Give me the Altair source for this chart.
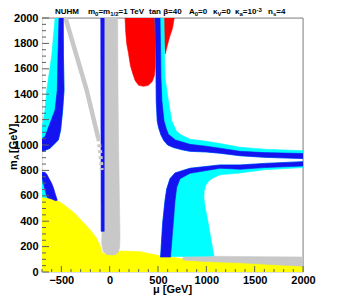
import altair as alt
import pandas as pd

# ---------------- data (mu [GeV], m_A [GeV]) ----------------
X_MAJOR = [-500, 0, 500, 1000, 1500, 2000]
X_MINOR = list(range(-700, 2001, 100))
Y_MAJOR = list(range(0, 2001, 200))
Y_MINOR = list(range(0, 2001, 50))

YELLOW_MU = [-700, -700, -600, -520, -440, -360, -280, -200, -140, -100, -75, -40, 20, 110, 314, 520, 759, 800, 1000, 1350, 1700, 2000, 2000]
YELLOW_MA = [0, 590, 575, 555, 510, 460, 395, 330, 270, 210, 150, 140, 150, 165, 160, 128, 104, 96, 86, 76, 63, 50, 0]

GRAYB_MU = [760, 1000, 1500, 2000, 2000, 1700, 1350, 1000, 760]
GRAYB_MA = [120, 124, 121, 118, 45, 58, 72, 82, 94]

GRAYS_MU = [-59, 83, 85, 92, 100, 107, 104, 90, 60, 20, -30, -65, -82, -80, -70, -62, -60]
GRAYS_MA = [2000, 2000, 1500, 1000, 600, 300, 200, 155, 138, 134, 138, 160, 220, 300, 400, 800, 1500]

BLUEL_MU = [-92, -57, -57, -88]
BLUEL_MA = [2000, 2000, 320, 320]

DIAG_MU = [-457, -238, -118]
DIAG_MA = [2000, 1433, 1053]
DIAG2_MU = [-118, -100, -82]
DIAG2_MA = [1053, 961, 803]

REDL_MU = [159, 470, 474, 472, 462, 440, 400, 350, 300, 265, 240, 215, 195, 176, 165]
REDL_MA = [2000, 2000, 1800, 1620, 1545, 1500, 1470, 1462, 1470, 1505, 1560, 1625, 1720, 1800, 1900]
REDR_MU = [560, 668, 650, 620, 595, 575, 566, 562]
REDR_MA = [2000, 2000, 1920, 1850, 1780, 1716, 1800, 1900]

CYAN_UL_MU = [-565, -600, -651, -669, -693, -700, -700, -617, -531, -507, -486, -472, -478, -480]
CYAN_UL_MA = [2000, 1700, 1433, 1276, 1171, 1140, 947, 974, 1039, 1118, 1276, 1433, 1700, 2000]
BLUE_UL_MU = [-524, -535, -542, -565, -617, -669, -700, -700, -617, -531, -507, -486, -472, -478, -480]
BLUE_UL_MA = [2000, 1700, 1433, 1276, 1171, 1066, 1050, 947, 974, 1039, 1118, 1276, 1433, 1700, 2000]

CYAN_LL_MU = [-700, -690, -660, -645, -700]
CYAN_LL_MA = [760, 700, 620, 585, 590]
BLUE_LL_MU = [-700, -670, -650, -630, -600, -580, -565, -548, -542, -560, -600, -645, -660, -686, -700]
BLUE_LL_MA = [785, 785, 770, 740, 698, 660, 620, 580, 565, 562, 575, 585, 620, 698, 740]

CYAN_UR_MU = [562, 568, 573, 607, 642, 690, 728, 831, 1000, 1141, 1350, 1600, 2000,
              2000, 1600, 1350, 1141, 1000, 830, 750, 660, 600, 560, 530, 505, 492, 482, 480, 478, 469]
CYAN_UR_MA = [2000, 1700, 1528, 1350, 1190, 1110, 1085, 1045, 1030, 1012, 982, 967, 955,
              893, 903, 915, 935, 945, 950, 962, 980, 1000, 1035, 1080, 1140, 1190, 1343, 1500, 1700, 2000]
BLUE_UR_MU = [521, 528, 531, 540, 562, 585, 607, 680, 831, 1000, 1141, 1350, 1600, 2000,
              2000, 1600, 1350, 1141, 1000, 830, 750, 660, 600, 560, 530, 505, 492, 482, 480, 478, 469]
BLUE_UR_MA = [2000, 1700, 1528, 1350, 1190, 1130, 1085, 1040, 1005, 990, 975, 950, 940, 933,
              893, 903, 915, 935, 945, 950, 962, 980, 1000, 1035, 1080, 1140, 1190, 1343, 1500, 1700, 2000]

CYAN_LO_MU = [525, 528, 548, 572, 590, 624, 676, 831, 1141, 1350, 1600, 2000,
              2000, 1600, 1350, 1141, 1080, 1030, 995, 978, 975, 990, 1020, 1050, 1079]
CYAN_LO_MA = [120, 134, 383, 560, 653, 735, 780, 817, 843, 843, 855, 869,
              822, 805, 780, 765, 745, 720, 685, 640, 580, 500, 383, 250, 126]
BLUE_LO_MU = [525, 528, 548, 572, 590, 624, 676, 831, 1141, 1350, 1600, 2000,
              2000, 1600, 1350, 1141, 831, 728, 693, 676, 658, 631, 631]
BLUE_LO_MA = [118, 134, 383, 560, 653, 735, 780, 817, 843, 843, 855, 869,
              835, 822, 809, 817, 777, 735, 666, 560, 383, 134, 118]

# header pieces: (text, font size, vertical shift)
HEADER_GROUPS = [
    (13, [("NUHM", 8, 0)]),
    (46, [("m", 8, 0), ("0", 6, 2), ("=m", 8, 0), ("1/2", 6, 2), ("=1 TeV", 8, 0)]),
    (107, [("tan \u03b2=40", 8, 0)]),
    (147, [("A", 8, 0), ("0", 6, 2), ("=0", 8, 0)]),
    (171, [("\u03ba", 8, 0), ("V", 6, 2), ("=0", 8, 0)]),
    (193, [("\u03ba", 8, 0), ("a", 6, 2), ("=10", 8, 0), ("-3", 6, -2)]),
    (226, [("n", 8, 0), ("s", 6, 2), ("=4", 8, 0)]),
]
X_TITLE = "\u03bc [GeV]"

YELLOW, GRAY, BLUE, CYAN, RED = "#ffff00", "#c8c8c8", "#1414f0", "#00ffff", "#ff0000"
FONT = "Liberation Sans"
# approximate bold advance widths (em) for laying out header pieces
CW = {"N": .722, "U": .722, "H": .722, "M": .833, "m": .889, "0": .556, "1": .556, "2": .556,
      "3": .556, "4": .556, "=": .584, "/": .278, " ": .278, "T": .611, "e": .556, "V": .667,
      "t": .333, "a": .556, "n": .611, "\u03b2": .58, "A": .722, "\u03ba": .56, "s": .556, "-": .333}


def width(s, size):
    return sum(CW.get(c, .6) for c in s) * size


def poly_df(pairs):
    rows = []
    for pid, (mus, mas) in enumerate(pairs):
        seq = list(zip(mus, mas)) + [(mus[0], mas[0])]
        for i, (m, a) in enumerate(seq):
            rows.append({"pid": pid, "i": i, "mu": m, "ma": a})
    return pd.DataFrame(rows)


XS = alt.Scale(domain=[-700, 2000], nice=False, zero=False)
YS = alt.Scale(domain=[0, 2000], nice=False, zero=False)
XAX = alt.Axis(values=X_MAJOR, ticks=False, domain=False, grid=False, title=None, format="d",
               labelFont=FONT, labelFontSize=11, labelFontWeight="bold", labelColor="black",
               labelPadding=2, labelFlush=False, labelOverlap=False)
YAX = alt.Axis(values=Y_MAJOR, ticks=False, domain=False, grid=False, title=None, format="d",
               labelFont=FONT, labelFontSize=11, labelFontWeight="bold", labelColor="black",
               labelPadding=4, labelFlush=False, labelOverlap=False)


def region(pairs, color):
    return alt.Chart(poly_df(pairs)).mark_line(
        fill=color, stroke=color, strokeWidth=0.6, clip=True, interpolate="linear"
    ).encode(
        x=alt.X("mu:Q", scale=XS, axis=XAX),
        y=alt.Y("ma:Q", scale=YS, axis=YAX),
        detail="pid:N",
        order="i:Q",
    )


def line(mus, mas, color, w, dash=None):
    df = pd.DataFrame({"mu": mus, "ma": mas, "i": range(len(mus))})
    kw = dict(stroke=color, strokeWidth=w, clip=True)
    if dash:
        kw["strokeDash"] = dash
    return alt.Chart(df).mark_line(**kw).encode(
        x=alt.X("mu:Q", scale=XS, axis=XAX), y=alt.Y("ma:Q", scale=YS, axis=YAX), order="i:Q")


frame = alt.Chart(pd.DataFrame({"ma": [2000]})).mark_rule(color="#8c8c8c", strokeWidth=1).encode(
    x=alt.value(0), x2=alt.value(261), y=alt.Y("ma:Q", scale=YS, axis=YAX))
frame_r = alt.Chart(pd.DataFrame({"mu": [2000]})).mark_rule(color="#8c8c8c", strokeWidth=1).encode(
    x=alt.X("mu:Q", scale=XS, axis=XAX), y=alt.value(0), y2=alt.value(254))

layers = [
    frame, frame_r,
    region([(YELLOW_MU, YELLOW_MA)], YELLOW),
    region([(GRAYB_MU, GRAYB_MA), (GRAYS_MU, GRAYS_MA)], GRAY),
    region([(BLUEL_MU, BLUEL_MA)], BLUE),
    line(DIAG_MU, DIAG_MA, GRAY, 4.5),
    line(DIAG2_MU, DIAG2_MA, GRAY, 4, [3, 3]),
    region([(REDL_MU, REDL_MA), (REDR_MU, REDR_MA)], RED),
    region([(CYAN_UL_MU, CYAN_UL_MA), (CYAN_LL_MU, CYAN_LL_MA), (CYAN_UR_MU, CYAN_UR_MA), (CYAN_LO_MU, CYAN_LO_MA)], CYAN),
    region([(BLUE_UL_MU, BLUE_UL_MA), (BLUE_LL_MU, BLUE_LL_MA), (BLUE_UR_MU, BLUE_UR_MA), (BLUE_LO_MU, BLUE_LO_MA)], BLUE),
]

# inward ticks
ymaj = pd.DataFrame({"ma": Y_MAJOR})
ymin = pd.DataFrame({"ma": [v for v in Y_MINOR if v not in Y_MAJOR]})
xmaj = pd.DataFrame({"mu": X_MAJOR})
xmin = pd.DataFrame({"mu": [v for v in X_MINOR if v not in X_MAJOR]})
TK = "#606060"
layers += [
    alt.Chart(ymaj).mark_rule(color=TK).encode(y=alt.Y("ma:Q", scale=YS, axis=YAX), x=alt.value(0), x2=alt.value(7)),
    alt.Chart(ymin).mark_rule(color=TK).encode(y=alt.Y("ma:Q", scale=YS, axis=YAX), x=alt.value(0), x2=alt.value(4)),
    alt.Chart(xmaj).mark_rule(color=TK).encode(x=alt.X("mu:Q", scale=XS, axis=XAX), y=alt.value(254), y2=alt.value(248)),
    alt.Chart(xmin).mark_rule(color=TK).encode(x=alt.X("mu:Q", scale=XS, axis=XAX), y=alt.value(254), y2=alt.value(251)),
]


def txt(s, x, y, size, angle=0, align="left", baseline="middle"):
    return alt.Chart(pd.DataFrame({"t": [s]})).mark_text(
        text=s, font=FONT, fontSize=size, fontWeight="bold", align=align, baseline=baseline,
        angle=angle, color="black").encode(x=alt.value(x), y=alt.value(y))


# y-axis title m_A [GeV] (rotated, reading upward)
TX = -28
layers += [
    txt("m", TX, 152, 11, 270),
    txt("A", TX + 3, 142, 8, 270),
    txt("[GeV]", TX, 135, 11, 270),
]
# x-axis title
layers.append(txt(X_TITLE, 130.5, 275, 11, 0, "center", "alphabetic"))

# header line above the frame
HY = -6
for x0, pieces in HEADER_GROUPS:
    x = x0
    for s, sz, dy in pieces:
        layers.append(txt(s, x, HY + dy, sz))
        x += width(s, sz)

chart = alt.layer(*layers).properties(
    width=261, height=254,
    autosize=alt.AutoSizeParams(type="none"),
    padding={"left": 34, "top": 10, "right": 40, "bottom": 23},
).configure_view(stroke=None).configure(background="white")

chart.save("out.html", embed_options={"renderer": "svg", "actions": False})
